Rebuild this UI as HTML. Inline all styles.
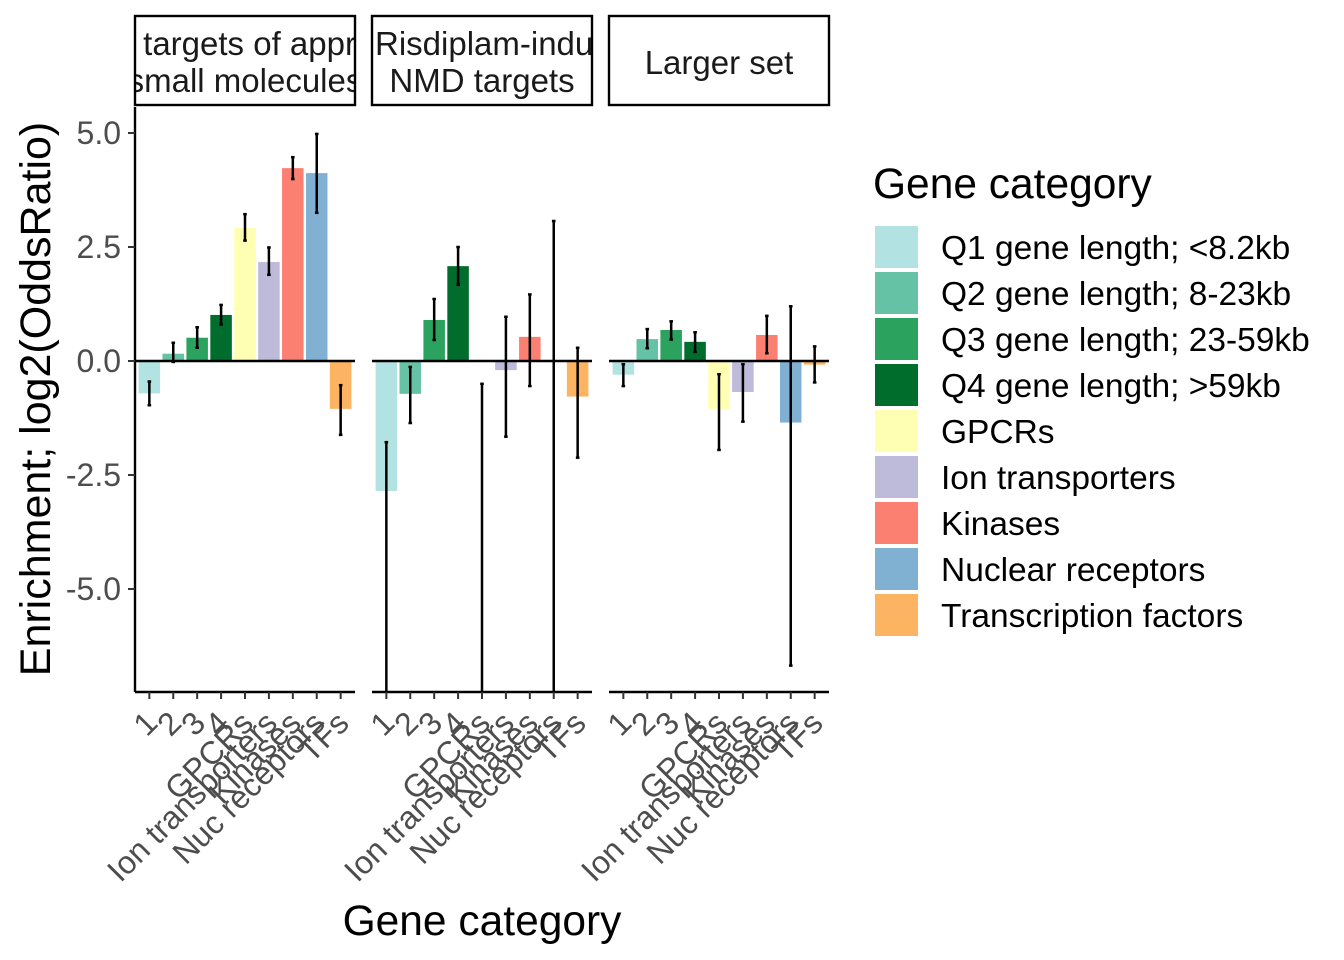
<!DOCTYPE html>
<html><head><meta charset="utf-8"><style>
html,body{margin:0;padding:0;background:#fff;}
svg{display:block;font-family:"Liberation Sans",Arial,sans-serif;}
</style></head><body>
<svg id="chart" width="1344" height="960" viewBox="0 0 1344 960"></svg>
<script>
const categories = ["1","2","3","4","GPCRs","Ion transporters","Kinases","Nuc receptors","TFs"];
const panelTitles = [["Drug targets of approved","small molecules"],["Risdiplam-induced","NMD targets"],["Larger set"]];
const values1 = [-0.71, 0.16, 0.51, 1.01, 2.92, 2.17, 4.23, 4.12, -1.05];
const low1 = [-0.97, -0.02, 0.29, 0.80, 2.64, 1.89, 3.99, 3.25, -1.62];
const high1 = [-0.45, 0.40, 0.74, 1.23, 3.22, 2.49, 4.47, 4.98, -0.53];
const values2 = [-2.85, -0.72, 0.90, 2.08, 0, -0.20, 0.53, 0, -0.78];
const low2 = [-9, -1.36, 0.46, 1.67, -9, -1.66, -0.55, -9, -2.12];
const high2 = [-1.78, -0.13, 1.36, 2.50, -0.50, 0.97, 1.46, 3.07, 0.29];
const values3 = [-0.30, 0.48, 0.68, 0.42, -1.05, -0.68, 0.57, -1.35, -0.08];
const low3 = [-0.55, 0.28, 0.47, 0.20, -1.95, -1.33, 0.17, -6.68, -0.47];
const high3 = [-0.07, 0.70, 0.87, 0.63, -0.29, -0.07, 0.99, 1.20, 0.32];
const yTicks = [5.0, 2.5, 0.0, -2.5, -5.0];
const yTickLabels = ["5.0","2.5","0.0","-2.5","-5.0"];
const legendLabels = ["Q1 gene length; <8.2kb","Q2 gene length; 8-23kb","Q3 gene length; 23-59kb","Q4 gene length; >59kb","GPCRs","Ion transporters","Kinases","Nuclear receptors","Transcription factors"];
const colors = ["#b3e2e2","#66c2a4","#2ca25f","#006d2c","#ffffb3","#bebada","#fb8072","#80b1d3","#fdb462"];

const NS="http://www.w3.org/2000/svg";
const svg=document.getElementById('chart');
function el(tag,attrs,parent){const e=document.createElementNS(NS,tag);for(const k in attrs)e.setAttribute(k,attrs[k]);(parent||svg).appendChild(e);return e;}
const panelX=[135,372,609], panelW=220, plotTop=107, plotBottom=692;
function y(v){return 361 - v*45.6;}
function xc(p,i){return panelX[p] + (0.6+i)*panelW/9.2;}
const bw = 0.9*panelW/9.2;
const series=[[values1,low1,high1],[values2,low2,high2],[values3,low3,high3]];

const defs=el('defs',{});
for(let p=0;p<3;p++){
  const cp=el('clipPath',{id:'clip'+p},defs);
  el('rect',{x:panelX[p],y:plotTop,width:panelW,height:plotBottom-plotTop},cp);
  const cs=el('clipPath',{id:'sclip'+p},defs);
  el('rect',{x:panelX[p]+1,y:16,width:panelW-2,height:89},cs);
}

for(let p=0;p<3;p++){
  const g=el('g',{'clip-path':'url(#clip'+p+')'});
  
  
  const [vals,lo,hi]=series[p];
  for(let i=0;i<9;i++){
    const v=vals[i];
    const r=el('rect',{x:xc(p,i)-bw/2,y:Math.min(y(0),y(v)),width:bw,height:Math.abs(y(v)-y(0)),fill:colors[i]},g);
    
    
  }
  const zl=el('line',{x1:panelX[p],x2:panelX[p]+panelW,y1:y(0),y2:y(0),stroke:'#000','stroke-width':2.4},g);
  
  
  for(let i=0;i<9;i++){
    const eg=el('g',{stroke:'#000','stroke-width':2.5},g);
    
    
    const cx=xc(p,i);
    el('line',{x1:cx,x2:cx,y1:y(hi[i]),y2:y(lo[i])},eg);
    el('line',{x1:cx-1.8,x2:cx+1.8,y1:y(hi[i]),y2:y(hi[i])},eg);
    el('line',{x1:cx-1.8,x2:cx+1.8,y1:y(lo[i]),y2:y(lo[i])},eg);
  }
  const ax=el('g',{});
  
  
  el('line',{x1:panelX[p],x2:panelX[p]+panelW,y1:plotBottom,y2:plotBottom,stroke:'#000','stroke-width':2.4},ax);
  for(let i=0;i<9;i++){
    const cx=xc(p,i);
    el('line',{x1:cx,x2:cx,y1:plotBottom,y2:plotBottom+7,stroke:'#333','stroke-width':2},ax);
    const t=el('text',{x:0,y:0,'text-anchor':'end','font-size':32,fill:'#4d4d4d',transform:'translate('+(cx+10)+','+(plotBottom+33)+') rotate(-45)'},ax);
    t.textContent=categories[i];
    
    
  }
  const sg=el('g',{});
  
  
  el('rect',{x:panelX[p],y:16,width:panelW,height:89,fill:'#fff',stroke:'#000','stroke-width':2.4},sg);
  const lines=panelTitles[p];
  const tg=el('g',{'clip-path':'url(#sclip'+p+')'},sg);
  lines.forEach((ln,k)=>{
    const yy = lines.length===1 ? 74 : 55+k*37;
    const t=el('text',{x:panelX[p]+panelW/2,y:yy,'text-anchor':'middle','font-size':33,fill:'#1a1a1a'},tg);
    if(p===1 && k===0){t.setAttribute('x',panelX[p]+3);t.setAttribute('text-anchor','start');}
    t.textContent=ln;
    
    
  });
}
const ya=el('g',{});


el('line',{x1:135,x2:135,y1:plotTop,y2:plotBottom,stroke:'#000','stroke-width':2.4},ya);
yTicks.forEach((v,i)=>{
  el('line',{x1:128,x2:135,y1:y(v),y2:y(v),stroke:'#333','stroke-width':2},ya);
  const t=el('text',{x:121,y:y(v)+11,'text-anchor':'end','font-size':32,fill:'#4d4d4d'},ya);
  t.textContent=yTickLabels[i];
  
  
});
const yt=el('text',{x:0,y:0,'text-anchor':'middle','font-size':43,fill:'#000',transform:'translate(50,399) rotate(-90)'});
yt.textContent='Enrichment; log2(OddsRatio)';


const xt=el('text',{x:482,y:935,'text-anchor':'middle','font-size':42.5,fill:'#000'});
xt.textContent='Gene category';


const lg=el('g',{});


const lt=el('text',{x:873,y:198,'font-size':42.5,fill:'#000'},lg);
lt.textContent='Gene category';


legendLabels.forEach((lab,i)=>{
  const e=el('g',{},lg);
  
  
  const yy=226+i*46;
  el('rect',{x:875,y:yy,width:43,height:42,fill:colors[i]},e);
  const t=el('text',{x:941,y:yy+33,'font-size':33.5,fill:'#000'},e);
  t.textContent=lab;
});
</script>
</body></html>
